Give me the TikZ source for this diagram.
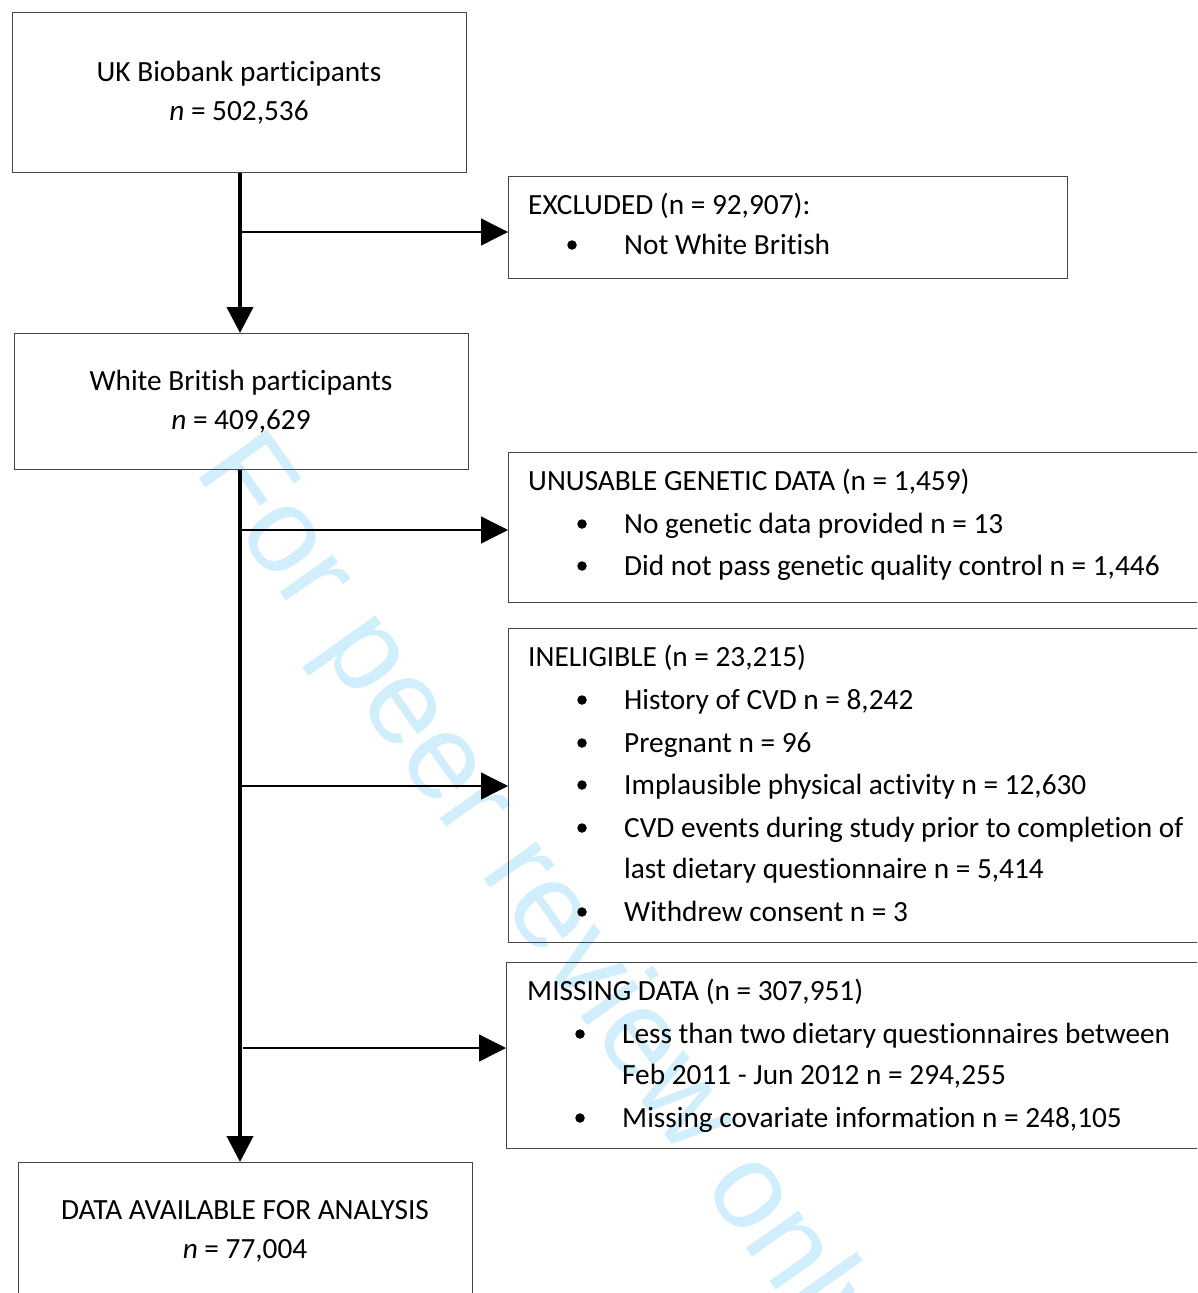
\documentclass[tikz,border=0pt]{standalone}
\usepackage{fontspec}
\setmainfont[Ligatures=NoCommon]{Carlito}
\newfontfamily\wmfont{Liberation Sans}
\usetikzlibrary{arrows.meta}
\definecolor{wmcol}{RGB}{208,238,251}
\definecolor{boxline}{RGB}{70,70,70}
\begin{document}
\begin{tikzpicture}[x=1pt,y=-1pt,
  box/.style={draw=boxline, line width=1.1pt, inner sep=0pt, anchor=north west},
  txt/.style={anchor=base west, inner sep=0pt, font=\fontsize{29.3}{35}\selectfont},
  ctxt/.style={anchor=base, inner sep=0pt, font=\fontsize{29.3}{35}\selectfont},
  bul/.style={circle, fill=black, inner sep=0pt, minimum size=9.5pt},
  spinearrow/.style={line width=4pt, -{Triangle[length=26pt,width=26pt]}},
  sidearrow/.style={line width=1.3pt, -{Triangle[length=27pt,width=27pt]}},
]
\useasboundingbox[fill=white] (0,0) rectangle (1197,1293);
\clip (0,0) rectangle (1197,1293);

% watermark
\node[anchor=base west, inner sep=0pt, rotate=-54.6, text=wmcol,
      font=\wmfont\fontsize{121.7}{130}\selectfont] (wm) at (193,470) {For peer review only};

% boxes
\node[box, minimum width=454pt, minimum height=160pt] (b1) at (12,12) {};
\node[box, minimum width=559pt, minimum height=102pt] (excl) at (508,176) {};
\node[box, minimum width=454pt, minimum height=136pt] (b2) at (14,333) {};
\node[box, minimum width=720pt, minimum height=150pt] (unus) at (508,452) {};
\node[box, minimum width=720pt, minimum height=314pt] (ineli) at (508,628) {};
\node[box, minimum width=720pt, minimum height=186pt] (miss) at (506,962) {};
\node[box, minimum width=454pt, minimum height=160pt] (fin) at (18,1162) {};

% main box texts
\node[ctxt] (t1a) at (239,81) {UK Biobank participants};
\node[ctxt] (t1b) at (239,120) {\textit{n} = 502,536};
\node[ctxt] (t2a) at (241,390) {White British participants};
\node[ctxt] (t2b) at (241,429) {\textit{n} = 409,629};
\node[ctxt] (t3a) at (245,1219) {DATA AVAILABLE FOR ANALYSIS};
\node[ctxt] (t3b) at (245,1258) {\textit{n} = 77,004};

% excluded
\node[txt] (ex0) at (528,214) {EXCLUDED (n = 92,907):};
\node[bul] (exd1) at (572,245) {};
\node[txt] (ex1) at (624,254) {Not White British};

% unusable
\node[txt] (un0) at (528,490) {UNUSABLE GENETIC DATA (n = 1,459)};
\node[bul] (und1) at (582,524) {};
\node[txt] (un1) at (624,533) {No genetic data provided n = 13};
\node[bul] (und2) at (582,566) {};
\node[txt] (un2) at (624,575) {Did not pass genetic quality control n = 1,446};

% ineligible
\node[txt] (in0) at (528,666) {INELIGIBLE (n = 23,215)};
\node[bul] (ind1) at (582,700) {};
\node[txt] (in1) at (624,709) {History of CVD n = 8,242};
\node[bul] (ind2) at (582,743) {};
\node[txt] (in2) at (624,752) {Pregnant n = 96};
\node[bul] (ind3) at (582,785) {};
\node[txt] (in3) at (624,794) {Implausible physical activity n = 12,630};
\node[bul] (ind4) at (582,828) {};
\node[txt] (in4) at (624,837) {CVD events during study prior to completion of};
\node[txt] (in4b) at (624,878) {last dietary questionnaire n = 5,414};
\node[bul] (ind5) at (582,912) {};
\node[txt] (in5) at (624,921) {Withdrew consent n = 3};

% missing
\node[txt] (mi0) at (527,1000) {MISSING DATA (n = 307,951)};
\node[bul] (mid1) at (580,1034) {};
\node[txt] (mi1) at (622,1043) {Less than two dietary questionnaires between};
\node[txt] (mi1b) at (622,1084) {Feb 2011 - Jun 2012 n = 294,255};
\node[bul] (mid2) at (580,1118) {};
\node[txt] (mi2) at (622,1127) {Missing covariate information n = 248,105};

% connectors
\coordinate (sp) at (240,0);
\draw[spinearrow] (b1.south -| sp) -- (b2.north -| sp);
\draw[spinearrow] (b2.south -| sp) -- (fin.north -| sp);
\coordinate (a1) at (240,232);
\coordinate (a2) at (240,530);
\coordinate (a3) at (240,786);
\coordinate (a4) at (243,1048);
\draw[sidearrow] (a1) -- (a1 -| excl.west);
\draw[sidearrow] (a2) -- (a2 -| unus.west);
\draw[sidearrow] (a3) -- (a3 -| ineli.west);
\draw[sidearrow] (a4) -- (a4 -| miss.west);
\end{tikzpicture}
\end{document}
